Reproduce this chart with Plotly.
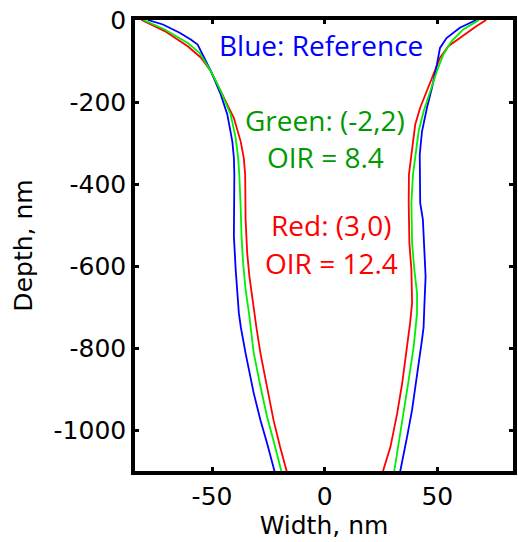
import plotly.graph_objects as go

# ---- data (width nm, depth nm) ----
blue_left_x = [-78.5, -71.8, -64.4, -59.3, -56.4, -50.5, -46.1, -43.2, -41.0, -40.3, -40.1, -40.3, -40.3, -39.5, -38.8, -38.1, -37.2, -35.1, -31.5, -28.5, -25.6, -22.3, -21.8]
blue_left_y = [0, -11, -31, -48, -60, -125, -182, -231, -296, -336, -377, -450, -528, -609, -666, -715, -750, -813, -910, -976, -1032, -1098, -1110]
green_left_x = [-80.5, -71.0, -60.8, -55.6, -50.5, -46.1, -41.7, -39.5, -38.4, -37.9, -37.3, -36.9, -36.2, -35.1, -33.6, -32.9, -31.5, -28.5, -25.6, -22.0, -19.3, -18.8]
green_left_y = [0, -23, -56, -80, -125, -174, -231, -288, -337, -377, -455, -528, -593, -658, -715, -750, -812, -894, -967, -1041, -1098, -1110]
red_left_x = [-81.3, -71.0, -60.8, -54.9, -50.5, -44.7, -40.3, -37.3, -35.9, -35.3, -35.1, -34.4, -33.4, -32.2, -31.0, -30.3, -28.5, -25.6, -22.7, -19.8, -16.9, -16.4]
red_left_y = [0, -27, -64, -92, -125, -190, -239, -296, -337, -377, -487, -568, -626, -674, -715, -750, -813, -894, -976, -1041, -1098, -1110]

blue_right_x = [67.3, 60.0, 54.1, 51.2, 49.8, 47.6, 45.4, 43.2, 42.2, 42.2, 42.4, 43.6, 44.3, 44.8, 44.3, 43.9, 43.2, 41.0, 38.8, 36.6, 33.6, 33.2]
blue_right_y = [0, -19, -44, -68, -109, -166, -214, -272, -328, -400, -446, -487, -552, -626, -691, -750, -780, -870, -951, -1016, -1098, -1110]
green_right_x = [68.5, 61.5, 56.3, 52.7, 49.8, 46.8, 43.9, 41.7, 40.2, 39.2, 38.5, 38.8, 39.8, 41.0, 41.0, 40.5, 39.5, 37.3, 35.1, 33.4, 31.0, 30.6]
green_right_y = [0, -23, -52, -84, -125, -174, -223, -272, -328, -377, -446, -544, -609, -666, -715, -750, -797, -878, -951, -1016, -1098, -1110]
red_right_x = [71.7, 67.3, 60.0, 54.9, 51.2, 48.3, 45.4, 42.4, 40.2, 38.8, 37.7, 37.4, 37.3, 37.6, 38.5, 38.8, 37.9, 36.6, 34.4, 32.2, 29.2, 26.0, 25.6]
red_right_y = [0, -15, -44, -64, -92, -133, -174, -214, -255, -312, -353, -377, -446, -544, -609, -691, -740, -797, -886, -959, -1041, -1098, -1110]

x_ticks = [-50, 0, 50]
x_ticktext = ["-50", "0", "50"]
y_ticks = [0, -200, -400, -600, -800, -1000]
y_ticktext = ["0", "-200", "-400", "-600", "-800", "-1000"]

labels = ["Blue: Reference", "Green: (-2,2)", "OIR = 8.4", "Red: (3,0)", "OIR = 12.4"]
label_x = [-1.6, 0.0, 0.3, 3.0, 3.0]
label_y = [-60, -243, -333, -499, -592]
label_colors = ["#0000ff", "#009a00", "#009a00", "#ff0000", "#ff0000"]

fig = go.Figure()
series = [
    ("#ff0000", red_left_x, red_left_y, red_right_x, red_right_y),
    ("#0000ff", blue_left_x, blue_left_y, blue_right_x, blue_right_y),
    ("#00ee00", green_left_x, green_left_y, green_right_x, green_right_y),
]
for col, lx, ly, rx, ry in series:
    fig.add_trace(go.Scatter(x=lx + [None] + rx, y=ly + [None] + ry, mode="lines",
                             line=dict(color=col, width=1.8), showlegend=False,
                             connectgaps=False))

for t, x, y, c in zip(labels, label_x, label_y, label_colors):
    fig.add_annotation(x=x, y=y, xref="x", yref="y", text=t, showarrow=False,
                       font=dict(family="Open Sans", size=28, color=c),
                       xanchor="center", yanchor="middle")

axis_common = dict(showline=True, linewidth=3.5, linecolor="black", mirror="ticks",
                   ticks="inside", ticklen=4, tickwidth=3, tickcolor="black",
                   showgrid=False, zeroline=False,
                   tickfont=dict(family="DejaVu Sans", size=25, color="black"))

fig.update_layout(
    width=518, height=542,
    margin=dict(l=135, r=1, t=20, b=71),
    paper_bgcolor="white", plot_bgcolor="white",
    xaxis=dict(range=[-84.2, 83.6], tickvals=x_ticks, ticktext=x_ticktext,
               title=dict(text="Width, nm", font=dict(family="DejaVu Sans", size=25, color="black"), standoff=4),
               **axis_common),
    yaxis=dict(range=[-1100, 0], tickvals=y_ticks, ticktext=y_ticktext,
               title=dict(text="Depth, nm", font=dict(family="DejaVu Sans", size=25, color="black"), standoff=15),
               **axis_common),
)

fig.write_html("out.html")
